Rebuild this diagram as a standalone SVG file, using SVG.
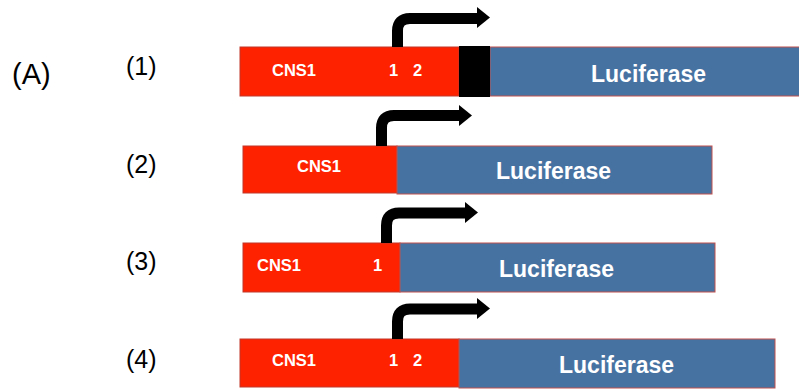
<svg xmlns="http://www.w3.org/2000/svg" width="799" height="389" viewBox="0 0 799 389">
<style>
.red{fill:#FF2200;stroke:#C0392B;stroke-width:1}
.blue{fill:#4672A2;stroke:#C0504D;stroke-width:1}
.blk{fill:#000}
.t{font-family:"Liberation Sans",Arial,sans-serif;fill:#fff;font-weight:bold}
.cns{font-size:16.5px}
.luc{font-size:23px}
.lbl{font-family:"Liberation Sans",Arial,sans-serif;fill:#000;font-size:25px}
.arr{fill:none;stroke:#000;stroke-width:11}
</style>
<text class="lbl" x="12" y="84" style="font-size:29px">(A)</text>
<g id="construct1">
<text class="lbl" x="126" y="75">(1)</text>
<rect class="red" x="240" y="47" width="219" height="49"/>
<rect class="blue" x="490" y="47" width="310" height="49"/>
<rect class="blk" x="459" y="46" width="31" height="51"/>
<text class="t cns" x="272" y="76">CNS1</text>
<text class="t cns" x="389" y="76">1</text>
<text class="t cns" x="413" y="76">2</text>
<text class="t luc" x="591" y="82">Luciferase</text>
</g>
<g id="construct2">
<text class="lbl" x="126" y="173">(2)</text>
<rect class="red" x="243" y="146" width="154" height="47"/>
<rect class="blue" x="397" y="146" width="315" height="48"/>
<text class="t cns" x="297" y="172">CNS1</text>
<text class="t luc" x="496" y="179">Luciferase</text>
</g>
<g id="construct3">
<text class="lbl" x="126" y="270">(3)</text>
<rect class="red" x="243" y="243" width="157" height="49"/>
<rect class="blue" x="400" y="243" width="315" height="49"/>
<text class="t cns" x="257" y="271">CNS1</text>
<text class="t cns" x="373" y="271">1</text>
<text class="t luc" x="499" y="277">Luciferase</text>
</g>
<g id="construct4">
<text class="lbl" x="126" y="368">(4)</text>
<rect class="red" x="240" y="339" width="219" height="48"/>
<rect class="blue" x="459" y="339" width="316" height="49"/>
<text class="t cns" x="272" y="366">CNS1</text>
<text class="t cns" x="389" y="366">1</text>
<text class="t cns" x="413" y="366">2</text>
<text class="t luc" x="559" y="373">Luciferase</text>
</g>
<g id="connectors">
<path class="arr" d="M397.5,47 V31 Q397.5,18.5 410,18.5 H478"/>
<polygon points="477,7 490,17.5 477,28"/>
<path class="arr" d="M381.5,146 V128 Q381.5,115.5 394,115.5 H460"/>
<polygon points="459,105 472,115.5 459,126"/>
<path class="arr" d="M386.5,243 V225.5 Q386.5,213 399,213 H466"/>
<polygon points="465,202 478,212.5 465,223"/>
<path class="arr" d="M397.5,339 V321.5 Q397.5,309 410,309 H478"/>
<polygon points="477,298 490,308.5 477,319"/>
</g>
</svg>
